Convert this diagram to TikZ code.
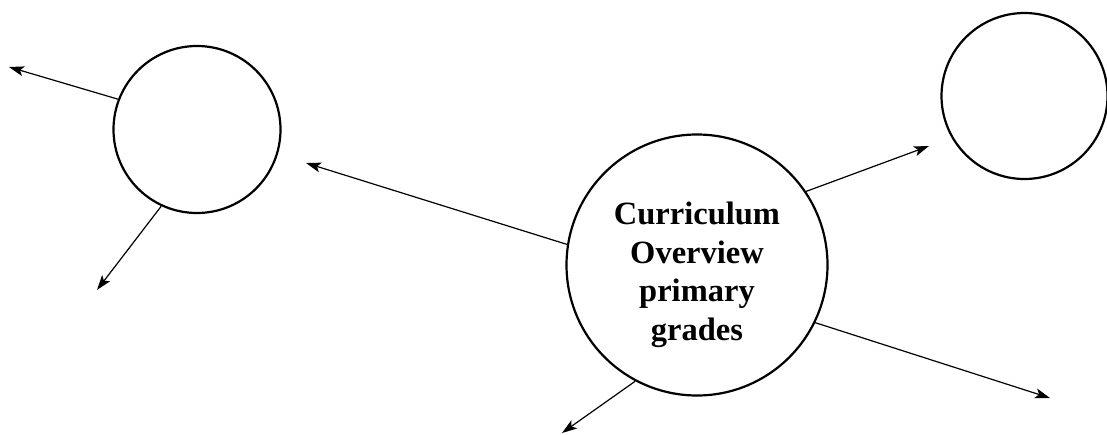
\documentclass[tikz,border=0pt]{standalone}
\usepackage{fontspec}
\setmainfont{Liberation Serif}
\usetikzlibrary{arrows.meta}
\begin{document}
\begin{tikzpicture}[x=1pt,y=-1pt,
  bubble/.style={draw=black,circle,line width=2.2pt,inner sep=0pt,fill=white},
  link/.style={line width=1.2pt,-{Stealth[length=15pt,width=10pt,inset=3.5pt]}}]
\useasboundingbox (0,0) rectangle (1107,434);
\node[bubble,minimum size=261pt,font=\bfseries\fontsize{32.5}{38.4}\selectfont] (main) at (697,265) {\raisebox{-16pt}[0pt][0pt]{\begin{tabular}{@{}c@{}}Curriculum\\Overview\\primary\\grades\end{tabular}}};
\node[bubble,minimum size=167pt] (left) at (197,129.5) {};
\node[bubble,minimum size=166pt] (right) at (1024.5,96) {};
\coordinate (e1) at (306,163);
\coordinate (e2) at (929,146);
\coordinate (e3) at (1050,398);
\coordinate (e4) at (562,433);
\coordinate (e5) at (9,67);
\coordinate (e6) at (97,290);
\draw[link] (main.171.3) -- (e1);
\draw[link] (main.34.5) -- (e2);
\draw[link] (main.-26.8) -- (e3);
\draw[link] (main.-118.7) -- (e4);
\draw[link] (left.159.1) -- (e5);
\draw[link] (left.-115.2) -- (e6);
\end{tikzpicture}
\end{document}
